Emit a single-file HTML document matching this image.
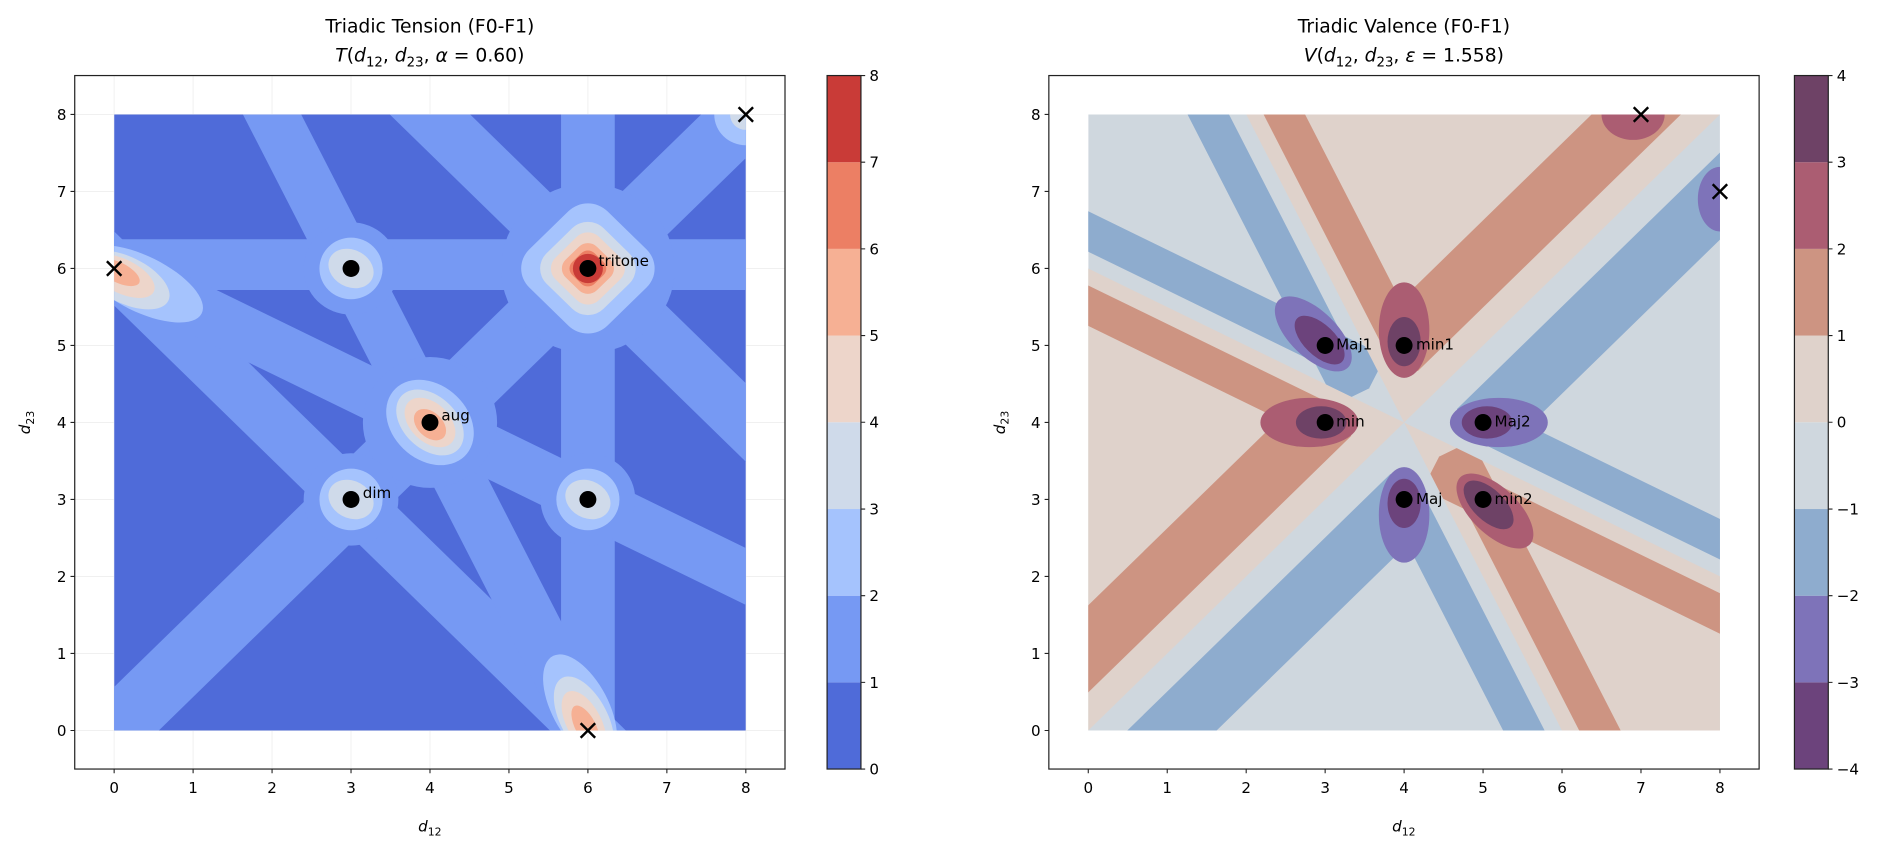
<!DOCTYPE html>
<html><head><meta charset="utf-8"><style>
html,body{margin:0;padding:0;background:#fff;overflow:hidden;width:1896px;height:851px}
svg{display:block}
text{font-family:"DejaVu Sans","Liberation Sans",sans-serif;fill:#000}
</style></head><body>
<svg width="1896" height="851" viewBox="0 0 1568 704" preserveAspectRatio="none" xmlns="http://www.w3.org/2000/svg">
<defs>
<clipPath id="cd"><rect x="0" y="0" width="8" height="8"/></clipPath>
</defs>

<!-- ============ LEFT PLOT ============ -->
<g stroke="#f0f0f0" stroke-width="0.8">
<line x1="94.4" y1="62.5" x2="94.4" y2="636.2"/><line x1="159.7" y1="62.5" x2="159.7" y2="636.2"/><line x1="225" y1="62.5" x2="225" y2="636.2"/><line x1="290.3" y1="62.5" x2="290.3" y2="636.2"/><line x1="355.6" y1="62.5" x2="355.6" y2="636.2"/><line x1="420.9" y1="62.5" x2="420.9" y2="636.2"/><line x1="486.2" y1="62.5" x2="486.2" y2="636.2"/><line x1="551.5" y1="62.5" x2="551.5" y2="636.2"/><line x1="616.8" y1="62.5" x2="616.8" y2="636.2"/>
<line x1="61.8" y1="604.3" x2="649.2" y2="604.3"/><line x1="61.8" y1="540.6" x2="649.2" y2="540.6"/><line x1="61.8" y1="476.9" x2="649.2" y2="476.9"/><line x1="61.8" y1="413.2" x2="649.2" y2="413.2"/><line x1="61.8" y1="349.5" x2="649.2" y2="349.5"/><line x1="61.8" y1="285.8" x2="649.2" y2="285.8"/><line x1="61.8" y1="222.1" x2="649.2" y2="222.1"/><line x1="61.8" y1="158.4" x2="649.2" y2="158.4"/><line x1="61.8" y1="94.7" x2="649.2" y2="94.7"/>
</g>
<g transform="translate(94.4,604.3) scale(65.3,-63.7)">
<g clip-path="url(#cd)">
<rect x="0" y="0" width="8" height="8" fill="#4f6bd9"/>
<g stroke="#7699f3" fill="none" stroke-linecap="butt">
<line x1="-1" y1="-1" x2="9" y2="9" stroke-width="0.8"/>
<line x1="-1" y1="7" x2="7" y2="-1" stroke-width="0.68"/>
<line x1="1.5" y1="9" x2="6.5" y2="-1" stroke-width="0.66"/>
<line x1="3" y1="9" x2="9" y2="3" stroke-width="0.72"/>
<line x1="6" y1="-1" x2="6" y2="9" stroke-width="0.68"/>
<line x1="-1" y1="6.05" x2="9" y2="6.05" stroke-width="0.66"/>
<line x1="-1" y1="6.5" x2="9" y2="1.5" stroke-width="0.66"/>
</g>
<g fill="#7699f3">
<circle cx="6" cy="6" r="1.1"/>
<circle cx="4" cy="4" r="0.85"/>
<circle cx="3" cy="6" r="0.6"/>
<circle cx="3" cy="3" r="0.6"/>
<circle cx="6" cy="3" r="0.6"/>
</g>
<g fill="#a5c3fd">
<rect x="5.3" y="5.3" width="1.4" height="1.4" rx="0.35" transform="rotate(45 6 6)"/>
<ellipse cx="4" cy="4" rx="0.62" ry="0.48" transform="rotate(-45 4 4)"/>
<circle cx="3" cy="6" r="0.4"/>
<circle cx="3" cy="3" r="0.4"/>
<circle cx="6" cy="3" r="0.4"/>
<ellipse cx="0.35" cy="5.8" rx="0.85" ry="0.36" transform="rotate(-27 0.35 5.8)"/>
<ellipse cx="5.9" cy="0.3" rx="0.75" ry="0.36" transform="rotate(-63 5.9 0.3)"/>
<circle cx="8" cy="8" r="0.4"/>
</g>
<g fill="#cfdaea">
<ellipse cx="3" cy="6" rx="0.3" ry="0.24" transform="rotate(-30 3 6)"/>
<ellipse cx="3" cy="3" rx="0.3" ry="0.24" transform="rotate(-30 3 3)"/>
<ellipse cx="6" cy="3" rx="0.3" ry="0.24" transform="rotate(-30 6 3)"/>
<ellipse cx="4" cy="4" rx="0.5" ry="0.34" transform="rotate(-45 4 4)"/>
<ellipse cx="0.15" cy="5.85" rx="0.6" ry="0.3" transform="rotate(-27 0.15 5.85)"/>
<ellipse cx="5.95" cy="0.15" rx="0.6" ry="0.3" transform="rotate(-63 5.95 0.15)"/>
<circle cx="8" cy="8" r="0.2"/>
<rect x="5.49" y="5.49" width="1.02" height="1.02" rx="0.28" transform="rotate(45 6 6)"/>
</g>
<g fill="#edd5ca">
<ellipse cx="4" cy="4" rx="0.38" ry="0.25" transform="rotate(-45 4 4)"/>
<ellipse cx="0.1" cy="5.9" rx="0.45" ry="0.22" transform="rotate(-27 0.1 5.9)"/>
<ellipse cx="5.95" cy="0.1" rx="0.45" ry="0.22" transform="rotate(-63 5.95 0.1)"/>
<rect x="5.61" y="5.61" width="0.78" height="0.78" rx="0.2" transform="rotate(45 6 6)"/>
</g>
<g fill="#f6b094">
<ellipse cx="4.02" cy="3.98" rx="0.24" ry="0.16" transform="rotate(-45 4 4)"/>
<ellipse cx="0.05" cy="5.95" rx="0.3" ry="0.13" transform="rotate(-27 0.05 5.95)"/>
<ellipse cx="5.97" cy="0.05" rx="0.3" ry="0.13" transform="rotate(-63 5.97 0.05)"/>
<rect x="5.72" y="5.72" width="0.56" height="0.56" rx="0.16" transform="rotate(45 6 6)"/>
</g>
<rect x="5.8" y="5.8" width="0.4" height="0.4" rx="0.12" transform="rotate(45 6 6)" fill="#ec7f64"/>
<circle cx="6" cy="6" r="0.19" fill="#c93b37"/>
</g>
</g>
<rect x="61.8" y="62.5" width="587.4" height="573.7" fill="none" stroke="#222" stroke-width="1"/>
<g fill="#000">
<circle cx="290.3" cy="222.1" r="7"/><circle cx="486.2" cy="222.1" r="7"/><circle cx="355.6" cy="349.5" r="7"/><circle cx="290.3" cy="413.2" r="7"/><circle cx="486.2" cy="413.2" r="7"/>
</g>
<g stroke="#000" stroke-width="2">
<path d="M88.4 216.1 L100.4 228.1 M88.4 228.1 L100.4 216.1"/>
<path d="M610.8 88.7 L622.8 100.7 M610.8 100.7 L622.8 88.7"/>
<path d="M480.2 598.3 L492.2 610.3 M480.2 610.3 L492.2 598.3"/>
</g>
<g font-size="12.5">
<text x="495" y="220">tritone</text>
<text x="365" y="348">aug</text>
<text x="300" y="412">dim</text>
</g>
<g stroke="#222" stroke-width="0.9">
<path d="M94.4 636.2v3.5M159.7 636.2v3.5M225 636.2v3.5M290.3 636.2v3.5M355.6 636.2v3.5M420.9 636.2v3.5M486.2 636.2v3.5M551.5 636.2v3.5M616.8 636.2v3.5"/>
<path d="M61.8 604.3h-3.5M61.8 540.6h-3.5M61.8 476.9h-3.5M61.8 413.2h-3.5M61.8 349.5h-3.5M61.8 285.8h-3.5M61.8 222.1h-3.5M61.8 158.4h-3.5M61.8 94.7h-3.5"/>
</g>
<g font-size="12.5" text-anchor="middle">
<text x="94.4" y="656">0</text><text x="159.7" y="656">1</text><text x="225" y="656">2</text><text x="290.3" y="656">3</text><text x="355.6" y="656">4</text><text x="420.9" y="656">5</text><text x="486.2" y="656">6</text><text x="551.5" y="656">7</text><text x="616.8" y="656">8</text>
</g>
<g font-size="12.5" text-anchor="end">
<text x="55" y="608.8">0</text><text x="55" y="545.1">1</text><text x="55" y="481.4">2</text><text x="55" y="417.7">3</text><text x="55" y="354">4</text><text x="55" y="290.3">5</text><text x="55" y="226.6">6</text><text x="55" y="162.9">7</text><text x="55" y="99.2">8</text>
</g>
<text x="355.5" y="688" font-size="12.5" text-anchor="middle"><tspan font-style="italic">d</tspan><tspan font-size="9" dy="3">12</tspan></text>
<text transform="translate(25,349.5) rotate(-90)" font-size="12.5" text-anchor="middle"><tspan font-style="italic">d</tspan><tspan font-size="9" dy="3">23</tspan></text>
<text x="355.5" y="27" font-size="15.5" text-anchor="middle">Triadic Tension (F0-F1)</text>
<text x="355.5" y="51" font-size="15.5" text-anchor="middle"><tspan font-style="italic">T</tspan>(<tspan font-style="italic">d</tspan><tspan font-size="11" dy="4">12</tspan><tspan dy="-4">, </tspan><tspan font-style="italic">d</tspan><tspan font-size="11" dy="4">23</tspan><tspan dy="-4">, </tspan><tspan font-style="italic">α</tspan> = 0.60)</text>

<g>
<rect x="684" y="564.5" width="28" height="71.7" fill="#4f6bd9"/>
<rect x="684" y="492.8" width="28" height="71.7" fill="#7699f3"/>
<rect x="684" y="421.1" width="28" height="71.7" fill="#a5c3fd"/>
<rect x="684" y="349.3" width="28" height="71.8" fill="#cfdaea"/>
<rect x="684" y="277.6" width="28" height="71.7" fill="#edd5ca"/>
<rect x="684" y="205.9" width="28" height="71.7" fill="#f6b094"/>
<rect x="684" y="134.2" width="28" height="71.7" fill="#ec7f64"/>
<rect x="684" y="62.5" width="28" height="71.7" fill="#c93b37"/>
<rect x="684" y="62.5" width="28" height="573.7" fill="none" stroke="#222" stroke-width="1"/>
<path d="M712 636.2h3.5M712 564.5h3.5M712 492.8h3.5M712 421.1h3.5M712 349.3h3.5M712 277.6h3.5M712 205.9h3.5M712 134.2h3.5M712 62.5h3.5" stroke="#222" stroke-width="0.9"/>
<g font-size="12.5">
<text x="719" y="640.7">0</text><text x="719" y="569">1</text><text x="719" y="497.3">2</text><text x="719" y="425.6">3</text><text x="719" y="353.8">4</text><text x="719" y="282.1">5</text><text x="719" y="210.4">6</text><text x="719" y="138.7">7</text><text x="719" y="67">8</text>
</g>
</g>

<!-- ============ RIGHT PLOT ============ -->
<defs>
<clipPath id="w1"><polygon points="4,4 21.89,-4.94 18.14,18.14"/></clipPath>
<clipPath id="w2"><polygon points="4,4 18.14,18.14 -4.94,21.89"/></clipPath>
<clipPath id="w3"><polygon points="4,4 -4.94,21.89 -13.89,12.94"/></clipPath>
<clipPath id="w4"><polygon points="4,4 -13.89,12.94 -10.14,-10.14"/></clipPath>
<clipPath id="w5"><polygon points="4,4 -10.14,-10.14 12.94,-13.89"/></clipPath>
<clipPath id="w6"><polygon points="4,4 12.94,-13.89 21.89,-4.94"/></clipPath>
</defs>
<g transform="translate(900,604.3) scale(65.3,-63.7)">
<g clip-path="url(#cd)">
<rect x="0" y="0" width="8" height="8" fill="#cfd7de"/>
<g fill="#dfd2cb">
<polygon points="4,4 18.14,18.14 -4.94,21.89"/>
<polygon points="4,4 -13.89,12.94 -10.14,-10.14"/>
<polygon points="4,4 12.94,-13.89 21.89,-4.94"/>
</g>
<g fill="none" stroke-linecap="butt">
<g clip-path="url(#w1)" stroke="#8eacce">
<line x1="4.73" y1="4.12" x2="14.92" y2="-0.98" stroke-width="0.47"/>
<line x1="4.95" y1="3.89" x2="13.02" y2="11.96" stroke-width="0.8"/>
</g>
<g clip-path="url(#w2)" stroke="#cd9482">
<line x1="3.89" y1="4.95" x2="11.96" y2="13.02" stroke-width="0.8"/>
<line x1="4.12" y1="4.73" x2="-0.98" y2="14.92" stroke-width="0.47"/>
</g>
<g clip-path="url(#w3)" stroke="#8eacce">
<line x1="3.35" y1="4.34" x2="-1.75" y2="14.54" stroke-width="0.47"/>
<line x1="3.66" y1="4.65" x2="-6.54" y2="9.75" stroke-width="0.47"/>
</g>
<g clip-path="url(#w4)" stroke="#cd9482">
<line x1="3.27" y1="3.88" x2="-6.92" y2="8.98" stroke-width="0.47"/>
<line x1="3.05" y1="4.11" x2="-5.02" y2="-3.96" stroke-width="0.8"/>
</g>
<g clip-path="url(#w5)" stroke="#8eacce">
<line x1="4.11" y1="3.05" x2="-3.96" y2="-5.02" stroke-width="0.8"/>
<line x1="3.88" y1="3.27" x2="8.98" y2="-6.92" stroke-width="0.47"/>
</g>
<g clip-path="url(#w6)" stroke="#cd9482">
<line x1="4.65" y1="3.66" x2="9.75" y2="-6.54" stroke-width="0.47"/>
<line x1="4.34" y1="3.35" x2="14.54" y2="-1.75" stroke-width="0.47"/>
</g>
</g>
<g fill="#7e73b9">
<ellipse cx="2.85" cy="5.15" rx="0.62" ry="0.3" transform="rotate(135 2.85 5.15)"/>
<ellipse cx="5.2" cy="4" rx="0.62" ry="0.32"/>
<ellipse cx="4" cy="2.8" rx="0.62" ry="0.32" transform="rotate(90 4 2.8)"/>
<ellipse cx="8" cy="6.9" rx="0.28" ry="0.42"/>
</g>
<g fill="#ab5d72">
<ellipse cx="4" cy="5.2" rx="0.62" ry="0.32" transform="rotate(90 4 5.2)"/>
<ellipse cx="2.8" cy="4" rx="0.62" ry="0.32"/>
<ellipse cx="5.15" cy="2.85" rx="0.62" ry="0.3" transform="rotate(-45 5.15 2.85)"/>
<ellipse cx="6.9" cy="8" rx="0.4" ry="0.33"/>
</g>
<g fill="#6c437c">
<ellipse cx="2.93" cy="5.07" rx="0.4" ry="0.2" transform="rotate(135 2.93 5.07)"/>
<ellipse cx="5.05" cy="4" rx="0.32" ry="0.21"/>
<ellipse cx="4" cy="2.95" rx="0.32" ry="0.21" transform="rotate(90 4 2.95)"/>
</g>
<g fill="#6e4266">
<ellipse cx="4" cy="5.05" rx="0.32" ry="0.21" transform="rotate(90 4 5.05)"/>
<ellipse cx="2.95" cy="4" rx="0.32" ry="0.21"/>
<ellipse cx="5.07" cy="2.93" rx="0.4" ry="0.2" transform="rotate(-45 5.07 2.93)"/>
</g>
</g>
</g>
<rect x="867.4" y="62.5" width="587.4" height="573.7" fill="none" stroke="#222" stroke-width="1"/>
<g fill="#000">
<circle cx="1095.9" cy="285.8" r="7"/><circle cx="1161.2" cy="285.8" r="7"/><circle cx="1095.9" cy="349.5" r="7"/><circle cx="1226.5" cy="349.5" r="7"/><circle cx="1161.2" cy="413.2" r="7"/><circle cx="1226.5" cy="413.2" r="7"/>
</g>
<g stroke="#000" stroke-width="2">
<path d="M1351.1 88.7 L1363.1 100.7 M1351.1 100.7 L1363.1 88.7"/>
<path d="M1416.4 152.4 L1428.4 164.4 M1416.4 164.4 L1428.4 152.4"/>
</g>
<g font-size="12.5">
<text x="1105" y="289">Maj1</text>
<text x="1171" y="289">min1</text>
<text x="1105" y="353">min</text>
<text x="1236" y="353">Maj2</text>
<text x="1171" y="417">Maj</text>
<text x="1236" y="417">min2</text>
</g>
<g stroke="#222" stroke-width="0.9">
<path d="M900 636.2v3.5M965.3 636.2v3.5M1030.6 636.2v3.5M1095.9 636.2v3.5M1161.2 636.2v3.5M1226.5 636.2v3.5M1291.8 636.2v3.5M1357.1 636.2v3.5M1422.4 636.2v3.5"/>
<path d="M867.4 604.3h-3.5M867.4 540.6h-3.5M867.4 476.9h-3.5M867.4 413.2h-3.5M867.4 349.5h-3.5M867.4 285.8h-3.5M867.4 222.1h-3.5M867.4 158.4h-3.5M867.4 94.7h-3.5"/>
</g>
<g font-size="12.5" text-anchor="middle">
<text x="900" y="656">0</text><text x="965.3" y="656">1</text><text x="1030.6" y="656">2</text><text x="1095.9" y="656">3</text><text x="1161.2" y="656">4</text><text x="1226.5" y="656">5</text><text x="1291.8" y="656">6</text><text x="1357.1" y="656">7</text><text x="1422.4" y="656">8</text>
</g>
<g font-size="12.5" text-anchor="end">
<text x="860.6" y="608.8">0</text><text x="860.6" y="545.1">1</text><text x="860.6" y="481.4">2</text><text x="860.6" y="417.7">3</text><text x="860.6" y="354">4</text><text x="860.6" y="290.3">5</text><text x="860.6" y="226.6">6</text><text x="860.6" y="162.9">7</text><text x="860.6" y="99.2">8</text>
</g>
<text x="1161" y="688" font-size="12.5" text-anchor="middle"><tspan font-style="italic">d</tspan><tspan font-size="9" dy="3">12</tspan></text>
<text transform="translate(831,349.5) rotate(-90)" font-size="12.5" text-anchor="middle"><tspan font-style="italic">d</tspan><tspan font-size="9" dy="3">23</tspan></text>
<text x="1161" y="27" font-size="15.5" text-anchor="middle">Triadic Valence (F0-F1)</text>
<text x="1161" y="51" font-size="15.5" text-anchor="middle"><tspan font-style="italic">V</tspan>(<tspan font-style="italic">d</tspan><tspan font-size="11" dy="4">12</tspan><tspan dy="-4">, </tspan><tspan font-style="italic">d</tspan><tspan font-size="11" dy="4">23</tspan><tspan dy="-4">, </tspan><tspan font-style="italic">ε</tspan> = 1.558)</text>

<g>
<rect x="1484" y="564.5" width="28" height="71.7" fill="#6c437c"/>
<rect x="1484" y="492.8" width="28" height="71.7" fill="#7e73b9"/>
<rect x="1484" y="421.1" width="28" height="71.7" fill="#8eacce"/>
<rect x="1484" y="349.3" width="28" height="71.8" fill="#cfd7de"/>
<rect x="1484" y="277.6" width="28" height="71.7" fill="#dfd2cb"/>
<rect x="1484" y="205.9" width="28" height="71.7" fill="#cd9482"/>
<rect x="1484" y="134.2" width="28" height="71.7" fill="#ab5d72"/>
<rect x="1484" y="62.5" width="28" height="71.7" fill="#6e4266"/>
<rect x="1484" y="62.5" width="28" height="573.7" fill="none" stroke="#222" stroke-width="1"/>
<path d="M1512 636.2h3.5M1512 564.5h3.5M1512 492.8h3.5M1512 421.1h3.5M1512 349.3h3.5M1512 277.6h3.5M1512 205.9h3.5M1512 134.2h3.5M1512 62.5h3.5" stroke="#222" stroke-width="0.9"/>
<g font-size="12.5">
<text x="1519" y="640.7">−4</text><text x="1519" y="569">−3</text><text x="1519" y="497.3">−2</text><text x="1519" y="425.6">−1</text><text x="1519" y="353.8">0</text><text x="1519" y="282.1">1</text><text x="1519" y="210.4">2</text><text x="1519" y="138.7">3</text><text x="1519" y="67">4</text>
</g>
</g>
</svg>
</body></html>
